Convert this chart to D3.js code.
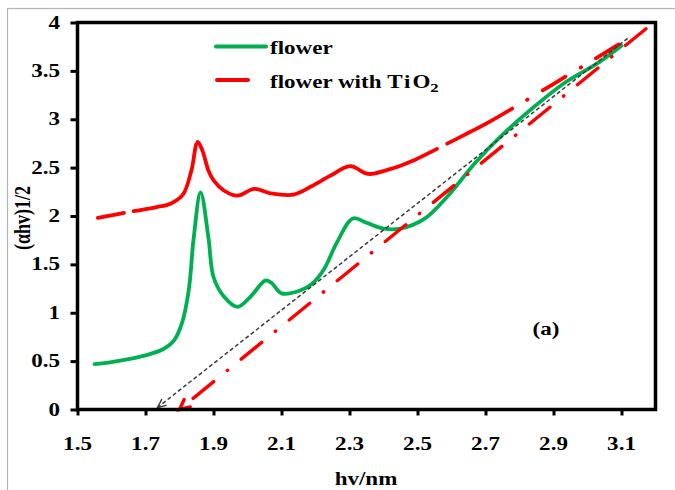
<!DOCTYPE html>
<html>
<head>
<meta charset="utf-8">
<script src="https://d3js.org/d3.v7.min.js"></script>
<style>
  html, body { margin: 0; padding: 0; background: #fff; }
  svg { display: block; }
  text { font-family: "Liberation Serif", "Times New Roman", serif; font-weight: bold; fill: #000; }
</style>
</head>
<body>
<svg id="chart" width="675" height="490"></svg>
<script>
// Photon energy (eV) and Tauc values (αhν)^1/2
const flowerX = [1.55, 1.60, 1.65, 1.70, 1.75, 1.783, 1.807, 1.827, 1.842, 1.862, 1.885, 1.90, 1.93, 1.97, 2.01, 2.052, 2.07, 2.10, 2.155, 2.19, 2.225, 2.262, 2.31, 2.35, 2.40, 2.45, 2.52, 2.59, 2.67, 2.75, 2.83, 2.93, 3.03, 3.10];
const flowerY = [0.47, 0.49, 0.52, 0.56, 0.62, 0.71, 0.89, 1.23, 1.78, 2.245, 1.78, 1.37, 1.17, 1.06, 1.17, 1.333, 1.31, 1.20, 1.23, 1.30, 1.45, 1.72, 1.975, 1.93, 1.87, 1.87, 1.97, 2.21, 2.55, 2.84, 3.09, 3.37, 3.58, 3.76];

const tio2X = [1.56, 1.665, 1.73, 1.775, 1.81, 1.835, 1.853, 1.867, 1.885, 1.90, 1.93, 1.97, 2.02, 2.067, 2.135, 2.19, 2.245, 2.302, 2.355, 2.41, 2.45, 2.486, 2.586, 2.65, 2.71, 3.10];
const tio2Y = [1.98, 2.05, 2.09, 2.13, 2.22, 2.47, 2.765, 2.68, 2.47, 2.37, 2.265, 2.21, 2.28, 2.235, 2.22, 2.31, 2.42, 2.515, 2.435, 2.475, 2.52, 2.57, 2.745, 2.86, 2.97, 3.79];

// Band-gap extrapolation lines (upper point first, arrow at the axis)
const flowerFitX = [3.118, 1.735];
const flowerFitY = [3.836, 0.02];
const tio2FitX = [3.172, 1.80];
const tio2FitY = [3.935, 0];

const xTicks = [1.5, 1.7, 1.9, 2.1, 2.3, 2.5, 2.7, 2.9, 3.1];
const yTicks = [0, 0.5, 1, 1.5, 2, 2.5, 3, 3.5, 4];
const xDomain = [1.5, 3.2];
const yDomain = [0, 4];

const seriesNames = ["flower", "flower with "];
const xTitle = "hv/nm";
const yTitle = "(αhv)1/2";
const panelTag = "(a)";

const GREEN = "#00b050", RED = "#ff0000", GREY = "#3a3a3a";
const SX = 1.28; // horizontal glyph stretch

const svg = d3.select("#chart");
const M = { left: 77.5, top: 22.5, right: 655.5, bottom: 409.5 };

const x = d3.scaleLinear().domain(xDomain).range([M.left, M.right]);
const y = d3.scaleLinear().domain(yDomain).range([M.bottom, M.top]);

// outer light frame
svg.append("rect").attr("x", 7.5).attr("y", 8.5).attr("width", 720).attr("height", 520)
  .attr("fill", "none").attr("stroke", "#b4b4b4").attr("stroke-width", 1.2);

// ticks
const xAxis = d3.axisBottom(x).tickValues(xTicks).tickSize(6).tickFormat("");
const yAxis = d3.axisLeft(y).tickValues(yTicks).tickSize(7).tickFormat("");
const gx = svg.append("g").attr("transform", `translate(0,${M.bottom})`).call(xAxis);
const gy = svg.append("g").attr("transform", `translate(${M.left},0)`).call(yAxis);
[gx, gy].forEach(g => {
  g.select(".domain").remove();
  g.selectAll(".tick line").attr("stroke", "#000").attr("stroke-width", 3);
});

// tick labels
svg.append("g").selectAll("text").data(xTicks).join("text")
  .attr("transform", d => `translate(${x(d)},450) scale(${SX},1)`)
  .attr("text-anchor", "middle").attr("font-size", 18)
  .text(d => d3.format(".1f")(d));
svg.append("g").selectAll("text").data(yTicks).join("text")
  .attr("transform", d => `translate(60,${y(d)}) scale(${SX},1)`)
  .attr("text-anchor", "end").attr("dy", "0.34em").attr("font-size", 18)
  .text(d => String(d));

// axis titles
svg.append("text").attr("transform", `translate(366,485) scale(${SX},1)`)
  .attr("text-anchor", "middle").attr("font-size", 18).text(xTitle);
svg.append("text").attr("transform", `translate(30,218) scale(${SX},1) rotate(-90)`)
  .attr("text-anchor", "middle").attr("font-size", 18).text(yTitle);

// curves
const line = d3.line().x(d => x(d[0])).y(d => y(d[1])).curve(d3.curveCatmullRom.alpha(0.5));
const flowerPts = flowerX.map((v, i) => [v, flowerY[i]]);
const tio2Pts = tio2X.map((v, i) => [v, tio2Y[i]]);

const plot = svg.append("g");
plot.append("path").attr("d", line(flowerPts)).attr("fill", "none")
  .attr("stroke", GREEN).attr("stroke-width", 3.8)
  .attr("stroke-linejoin", "round").attr("stroke-linecap", "round");

// long-dash-dot pattern, restarted at every data point of the series
const LDD = [26.5, 17.5, 0.5, 17.5];
function restartedDash(node, pxs, pattern) {
  const total = node.getTotalLength();
  const lens = pxs.map(px => {
    let lo = 0, hi = total;
    for (let k = 0; k < 40; k++) {
      const mid = (lo + hi) / 2;
      if (node.getPointAtLength(mid).x < px) lo = mid; else hi = mid;
    }
    return (lo + hi) / 2;
  });
  lens[0] = 0; lens[lens.length - 1] = total;
  const arr = [];
  for (let i = 0; i < lens.length - 1; i++) {
    let rem = lens[i + 1] - lens[i], k = 0;
    while (rem > 1e-6) {
      const p = Math.min(pattern[k % pattern.length], rem);
      arr.push(p); rem -= p; k++;
    }
    if (arr.length % 2 === 1) arr.push(0);
  }
  return arr.join(",");
}
const tio2Path = plot.append("path").attr("d", line(tio2Pts)).attr("fill", "none")
  .attr("stroke", RED).attr("stroke-width", 3.8)
  .attr("stroke-linejoin", "round").attr("stroke-linecap", "round");
tio2Path.attr("stroke-dasharray", restartedDash(tio2Path.node(), tio2X.map(x), LDD));

// open arrowhead at the end of a straight segment
function arrowHead(g, xs, ys, len, spread, color, width) {
  const x0 = x(xs[0]), y0 = y(ys[0]), x1 = x(xs[1]), y1 = y(ys[1]);
  const a = Math.atan2(y1 - y0, x1 - x0);
  const p = s => [x1 - len * Math.cos(a + s * spread), y1 - len * Math.sin(a + s * spread)];
  const [l, r] = [p(1), p(-1)];
  g.append("path").attr("d", `M${l[0]},${l[1]}L${x1},${y1}L${r[0]},${r[1]}`)
    .attr("fill", "none").attr("stroke", color).attr("stroke-width", width)
    .attr("stroke-linejoin", "miter").attr("stroke-linecap", "round");
}

// extrapolation lines
const straight = d3.line().x(d => x(d[0])).y(d => y(d[1]));
plot.append("path").attr("d", straight(flowerFitX.map((v, i) => [v, flowerFitY[i]])))
  .attr("fill", "none").attr("stroke", GREY).attr("stroke-width", 1.5)
  .attr("stroke-dasharray", "4,2.6");
arrowHead(plot, flowerFitX, flowerFitY, 9, 0.42, GREY, 1.4);
plot.append("path").attr("d", straight(tio2FitX.map((v, i) => [v, tio2FitY[i]])))
  .attr("fill", "none").attr("stroke", RED).attr("stroke-width", 3.4)
  .attr("stroke-linecap", "round").attr("stroke-dasharray", LDD.join(","));
arrowHead(plot, tio2FitX, tio2FitY, 11, 0.45, RED, 3.4);

// plot frame
svg.append("rect").attr("x", M.left).attr("y", M.top)
  .attr("width", M.right - M.left).attr("height", M.bottom - M.top)
  .attr("fill", "none").attr("stroke", "#000").attr("stroke-width", 3.5);

// legend
const lg = svg.append("g");
lg.append("line").attr("x1", 216).attr("x2", 266).attr("y1", 46.5).attr("y2", 46.5)
  .attr("stroke", GREEN).attr("stroke-width", 4).attr("stroke-linecap", "round");
lg.append("line").attr("x1", 217).attr("x2", 248).attr("y1", 80).attr("y2", 80)
  .attr("stroke", RED).attr("stroke-width", 4).attr("stroke-linecap", "round");
lg.append("text").attr("transform", `translate(270,54) scale(${SX},1)`)
  .attr("font-size", 18).text(seriesNames[0]);
const t2 = lg.append("text").attr("transform", `translate(270,88) scale(${SX},1)`)
  .attr("font-size", 18);
t2.append("tspan").text(seriesNames[1]);
t2.append("tspan").attr("letter-spacing", 1.5).text("Ti");
t2.append("tspan").text("O");
t2.append("tspan").attr("font-size", 13).attr("dy", 4).text("2");

// panel tag
svg.append("text").attr("transform", `translate(546,335) scale(${SX},1)`)
  .attr("text-anchor", "middle").attr("font-size", 18).text(panelTag);
</script>
</body>
</html>
